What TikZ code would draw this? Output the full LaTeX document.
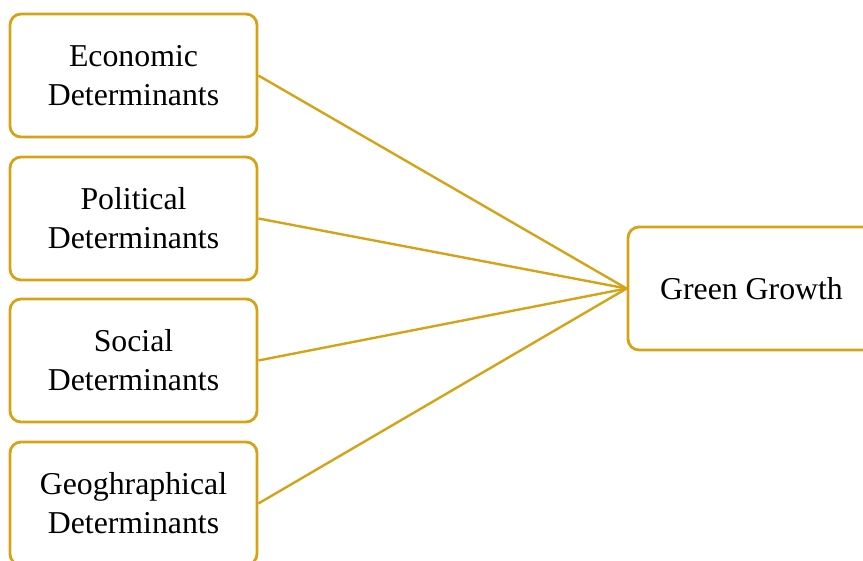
\documentclass[tikz,border=0pt]{standalone}
\usepackage{fontspec}
\setmainfont{Liberation Serif}
\definecolor{gold}{RGB}{214,163,24}
\begin{document}
\begin{tikzpicture}[x=1pt,y=-1pt,
  detbox/.style={draw=gold,line width=2.8pt,rounded corners=11pt,minimum width=247pt,minimum height=123pt,align=center,inner sep=0pt,
    font=\fontsize{31.8pt}{39pt}\selectfont},
  link/.style={draw=gold,line width=2.4pt}]
\useasboundingbox (0,0) rectangle (863,561);
\node[detbox] (eco) at (133.5,75.5) {Economic\\Determinants};
\node[detbox] (pol) at (133.5,218.5) {Political\\Determinants};
\node[detbox] (soc) at (133.5,360.5) {Social\\Determinants};
\node[detbox] (geo) at (133.5,503.5) {Geoghraphical\\Determinants};
\node[detbox] (gg) at (751.5,288.5) {Green Growth};
\foreach \n in {eco,pol,soc,geo} \draw[link] (\n.east) -- (gg.west);
\end{tikzpicture}
\end{document}
